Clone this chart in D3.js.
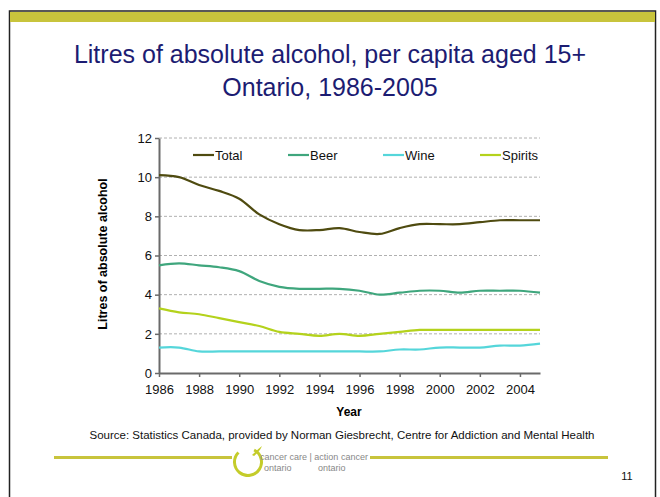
<!DOCTYPE html>
<html>
<head>
  <meta charset="utf-8">
  <title>Litres of absolute alcohol</title>
  <script src="https://d3js.org/d3.v7.min.js"></script>
  <style>
    body { margin: 0; background: #fff; }
    text { font-family: Arial, "Liberation Sans", sans-serif; }
  </style>
</head>
<body>
  <svg id="chart" width="660" height="497"></svg>

  <script>
    // data
    var years = [1986, 1987, 1988, 1989, 1990, 1991, 1992, 1993, 1994, 1995,
                 1996, 1997, 1998, 1999, 2000, 2001, 2002, 2003, 2004, 2005];
    var total   = [10.1, 10.0, 9.6, 9.3, 8.9, 8.1, 7.6, 7.3, 7.3, 7.4, 7.2, 7.1, 7.4, 7.6, 7.6, 7.6, 7.7, 7.8, 7.8, 7.8];
    var beer    = [5.5, 5.6, 5.5, 5.4, 5.2, 4.7, 4.4, 4.3, 4.3, 4.3, 4.2, 4.0, 4.1, 4.2, 4.2, 4.1, 4.2, 4.2, 4.2, 4.1];
    var wine    = [1.3, 1.3, 1.1, 1.1, 1.1, 1.1, 1.1, 1.1, 1.1, 1.1, 1.1, 1.1, 1.2, 1.2, 1.3, 1.3, 1.3, 1.4, 1.4, 1.5];
    var spirits = [3.3, 3.1, 3.0, 2.8, 2.6, 2.4, 2.1, 2.0, 1.9, 2.0, 1.9, 2.0, 2.1, 2.2, 2.2, 2.2, 2.2, 2.2, 2.2, 2.2];
    var seriesNames = ["Total", "Beer", "Wine", "Spirits"];
    var xTicks = [1986, 1988, 1990, 1992, 1994, 1996, 1998, 2000, 2002, 2004];
    var yTicks = [0, 2, 4, 6, 8, 10, 12];

    var colors = { Total: "#4f4b10", Beer: "#3fa67d", Wine: "#55d6da", Spirits: "#b4d21c" };
    var values = { Total: total, Beer: beer, Wine: wine, Spirits: spirits };
    var band = "#c8c43c";

    var svg = d3.select("#chart");

    // slide frame
    svg.append("rect").attr("x", 9.5).attr("y", 11).attr("width", 646).attr("height", 500)
      .attr("fill", "none").attr("stroke", "#222").attr("stroke-width", 1.5);
    svg.append("rect").attr("x", 10).attr("y", 12).attr("width", 645).attr("height", 10)
      .attr("fill", band);

    // title
    var title = svg.append("text").attr("text-anchor", "middle")
      .attr("fill", "#1c1c72").style("font-size", "25px");
    title.append("tspan").attr("x", 330).attr("y", 63).text("Litres of absolute alcohol, per capita aged 15+");
    title.append("tspan").attr("x", 330).attr("y", 96).text("Ontario, 1986-2005");

    // plot area
    var mLeft = 159, mRight = 540, mTop = 138, mBottom = 373;
    var x = d3.scaleLinear().domain([1986, 2005]).range([mLeft, mRight]);
    var y = d3.scaleLinear().domain([0, 12]).range([mBottom, mTop]);

    // gridlines
    svg.append("g").selectAll("line").data(yTicks.slice(1)).enter().append("line")
      .attr("x1", mLeft).attr("x2", mRight)
      .attr("y1", function(d) { return y(d); }).attr("y2", function(d) { return y(d); })
      .attr("stroke", "#b0b0b0").attr("stroke-dasharray", "3,2").attr("stroke-width", 1);

    var xAxis = svg.append("g")
      .attr("transform", "translate(0," + mBottom + ")")
      .call(d3.axisBottom(x).tickValues(xTicks).tickFormat(d3.format("d")).tickSize(4).tickSizeOuter(0));
    var yAxis = svg.append("g")
      .attr("transform", "translate(" + mLeft + ",0)")
      .call(d3.axisLeft(y).tickValues(yTicks).tickSize(4).tickSizeOuter(0));

    [xAxis, yAxis].forEach(function(a) {
      a.select(".domain").attr("stroke", "#6a6a6a").attr("stroke-width", 2);
      a.selectAll(".tick line").attr("stroke", "#6a6a6a").attr("stroke-width", 1.5);
      a.selectAll(".tick text").attr("fill", "#111").style("font-size", "13px")
        .style("font-family", "Arial, 'Liberation Sans', sans-serif");
    });
    xAxis.selectAll(".tick text").attr("dy", "1.05em");

    svg.append("text").attr("x", 349).attr("y", 416).attr("text-anchor", "middle")
      .style("font-size", "12px").style("font-weight", "bold").text("Year");
    svg.append("text").attr("transform", "translate(107,254) rotate(-90)")
      .attr("text-anchor", "middle").style("font-size", "12.5px").style("font-weight", "bold")
      .text("Litres of absolute alcohol");

    // lines (Excel-style light smoothing)
    var line = d3.line()
      .x(function(d, i) { return x(years[i]); })
      .y(function(d) { return y(d); })
      .curve(d3.curveCatmullRom.alpha(0.5));

    ["Wine", "Spirits", "Beer", "Total"].forEach(function(name) {
      svg.append("path").datum(values[name])
        .attr("d", line).attr("fill", "none")
        .attr("stroke", colors[name]).attr("stroke-width", 2.2);
    });

    // legend
    var legendX = [193, 288, 383, 480];
    var legend = svg.append("g");
    seriesNames.forEach(function(name, i) {
      legend.append("line").attr("x1", legendX[i]).attr("x2", legendX[i] + 21)
        .attr("y1", 155).attr("y2", 155)
        .attr("stroke", colors[name]).attr("stroke-width", 2.2);
      legend.append("text").attr("x", legendX[i] + 22).attr("y", 159.5)
        .style("font-size", "13px").attr("fill", "#111").text(name);
    });

    // footer
    svg.append("text").attr("x", 342).attr("y", 439).attr("text-anchor", "middle")
      .style("font-size", "11.5px").attr("fill", "#111")
      .text("Source: Statistics Canada, provided by Norman Giesbrecht, Centre for Addiction and Mental Health");
    svg.append("rect").attr("x", 54).attr("y", 456).attr("width", 178).attr("height", 3).attr("fill", band);
    svg.append("rect").attr("x", 370).attr("y", 456).attr("width", 238).attr("height", 3).attr("fill", band);

    // logo
    var logo = svg.append("g");
    logo.append("rect").attr("x", 233).attr("y", 443).attr("width", 136).attr("height", 36).attr("fill", "#fff");
    logo.append("path")
      .attr("d", d3.arc().innerRadius(12).outerRadius(15).startAngle(Math.PI * 0.15).endAngle(Math.PI * 1.75)())
      .attr("transform", "translate(248,462)").attr("fill", "#c4cc2a");
    logo.append("path").attr("d", "M252,455 q6,-6 10,-9 q-2,5 -8,10 z").attr("fill", "#c4cc2a");
    logo.append("text").attr("x", 260).attr("y", 460).style("font-size", "9px").attr("fill", "#888")
      .text("cancer care  |  action cancer");
    logo.append("text").attr("x", 264).attr("y", 471).style("font-size", "9px").attr("fill", "#888")
      .text("ontario");
    logo.append("text").attr("x", 318).attr("y", 471).style("font-size", "9px").attr("fill", "#888")
      .text("ontario");

    svg.append("text").attr("x", 627).attr("y", 480).attr("text-anchor", "middle")
      .style("font-size", "11px").attr("fill", "#111").text("11");
  </script>
</body>
</html>
